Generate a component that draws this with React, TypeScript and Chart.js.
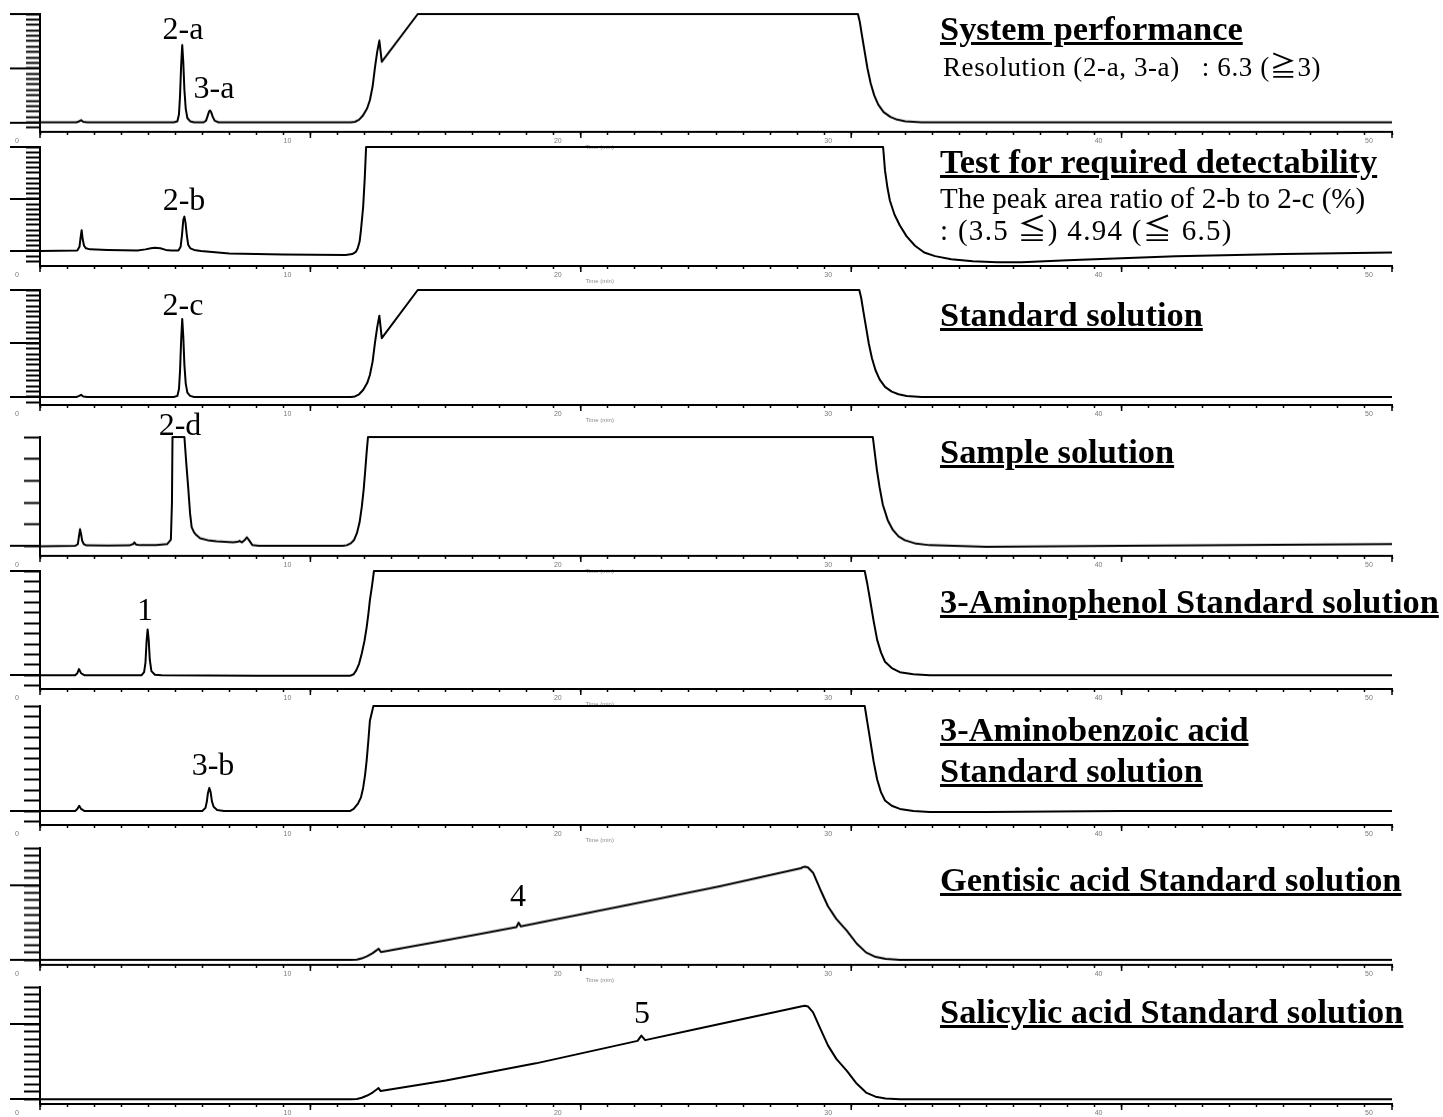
import React, { useEffect, useRef } from 'react';
import { Chart, registerables } from 'chart.js';

Chart.register(...registerables);

// ---------- DATA: [time (min), signal] ----------
const TIME_LABELS = [0, 10, 20, 30, 40, 50];

const systemPerformance: [number, number][] = [
  [0, 0], [1.35, 0], [1.45, 0.02], [1.52, 0.04], [1.6, 0.01], [1.75, 0], [4.95, 0], [5.08, 0.02], [5.14, 0.15],
  [5.18, 0.5], [5.22, 1.05], [5.26, 1.43], [5.3, 1.1], [5.34, 0.6], [5.39, 0.25], [5.45, 0.08], [5.55, 0.02],
  [5.7, 0], [6.05, 0], [6.14, 0.03], [6.2, 0.12], [6.25, 0.2], [6.29, 0.22], [6.33, 0.19], [6.39, 0.1],
  [6.46, 0.03], [6.6, 0], [11.5, 0], [11.65, 0.01], [11.8, 0.05], [11.95, 0.13], [12.1, 0.26], [12.2, 0.41],
  [12.3, 0.66], [12.39, 1.02], [12.47, 1.3], [12.55, 1.51], [12.64, 1.12], [13.97, 2.0], [30.25, 2.0],
  [30.32, 1.85], [30.4, 1.6], [30.5, 1.3], [30.6, 1.0], [30.72, 0.72], [30.85, 0.5], [31.0, 0.33],
  [31.2, 0.19], [31.45, 0.1], [31.7, 0.05], [32.0, 0.02], [32.6, 0], [50, 0],
];

const detectability: [number, number][] = [
  [0, 0], [1.38, 0.01], [1.46, 0.08], [1.5, 0.25], [1.54, 0.4], [1.58, 0.22], [1.63, 0.1], [1.7, 0.05],
  [1.85, 0.03], [2.5, 0.02], [3.6, 0.01], [3.9, 0.03], [4.1, 0.05], [4.25, 0.06], [4.45, 0.05], [4.65, 0.02],
  [4.85, 0.01], [5.12, 0.01], [5.2, 0.08], [5.25, 0.3], [5.3, 0.6], [5.34, 0.66], [5.38, 0.55], [5.43, 0.3],
  [5.48, 0.12], [5.56, 0.05], [5.7, 0.02], [5.95, 0], [7.0, -0.05], [9.0, -0.07], [11.3, -0.08],
  [11.55, -0.06], [11.68, -0.02], [11.75, 0.05], [11.82, 0.18], [11.87, 0.4], [11.95, 0.84], [12.01, 1.4],
  [12.06, 2.0], [31.18, 2.0], [31.25, 1.55], [31.34, 1.22], [31.43, 0.97], [31.6, 0.7], [31.8, 0.49],
  [32.05, 0.28], [32.36, 0.1], [32.7, -0.03], [33.1, -0.1], [33.7, -0.16], [34.5, -0.2], [35.4, -0.22],
  [36.3, -0.22], [38.0, -0.18], [40.0, -0.14], [42.0, -0.1], [46.0, -0.06], [50, -0.03],
];

const standardSolution: [number, number][] = [
  [0, 0], [1.35, 0], [1.45, 0.02], [1.52, 0.04], [1.6, 0.01], [1.75, 0], [4.95, 0], [5.08, 0.02], [5.14, 0.15],
  [5.18, 0.5], [5.22, 1.06], [5.26, 1.46], [5.3, 1.12], [5.34, 0.6], [5.39, 0.25], [5.45, 0.08], [5.55, 0.02],
  [5.7, 0], [11.5, 0], [11.65, 0.01], [11.8, 0.05], [11.95, 0.13], [12.1, 0.26], [12.2, 0.41], [12.3, 0.66],
  [12.39, 1.02], [12.47, 1.3], [12.55, 1.52], [12.64, 1.1], [13.97, 2.0], [30.3, 2.0], [30.37, 1.85],
  [30.45, 1.6], [30.55, 1.3], [30.65, 1.0], [30.77, 0.72], [30.9, 0.5], [31.05, 0.33], [31.25, 0.19],
  [31.5, 0.1], [31.75, 0.05], [32.05, 0.02], [32.6, 0], [50, 0],
];

const sampleSolution: [number, number][] = [
  [0, 0], [1.3, 0.02], [1.4, 0.1], [1.44, 0.45], [1.48, 0.78], [1.52, 0.55], [1.56, 0.25], [1.62, 0.1],
  [1.72, 0.04], [2.5, 0.03], [3.3, 0.04], [3.44, 0.1], [3.49, 0.18], [3.55, 0.08], [3.7, 0.05], [4.3, 0.06],
  [4.7, 0.1], [4.84, 0.3], [4.88, 2.0], [4.9, 5.0], [5.34, 5.0], [5.41, 3.8], [5.48, 2.7], [5.55, 1.5],
  [5.61, 0.87], [5.68, 0.68], [5.75, 0.55], [5.92, 0.37], [6.2, 0.28], [6.53, 0.23], [7.14, 0.18],
  [7.3, 0.2], [7.38, 0.25], [7.47, 0.18], [7.58, 0.3], [7.65, 0.41], [7.73, 0.28], [7.85, 0.06],
  [8.1, 0.02], [11.2, 0.02], [11.35, 0.05], [11.5, 0.14], [11.62, 0.3], [11.72, 0.6], [11.82, 1.1],
  [11.9, 1.8], [11.97, 2.6], [12.03, 3.5], [12.08, 4.3], [12.13, 5.0], [30.8, 5.0], [30.88, 4.2],
  [30.95, 3.5], [31.05, 2.7], [31.17, 1.9], [31.35, 1.2], [31.54, 0.75], [31.75, 0.45], [31.98, 0.28],
  [32.4, 0.12], [32.9, 0.05], [35.0, -0.02], [40.0, 0.02], [50, 0.1],
];

const aminophenolStd: [number, number][] = [
  [0, 0], [1.3, 0], [1.38, 0.02], [1.44, 0.06], [1.52, 0.02], [1.65, 0], [3.75, 0], [3.85, 0.03],
  [3.9, 0.12], [3.94, 0.32], [3.98, 0.44], [4.02, 0.34], [4.06, 0.15], [4.12, 0.04], [4.25, 0.005],
  [4.5, 0], [8.0, -0.005], [11.46, -0.005], [11.6, 0.01], [11.7, 0.05], [11.8, 0.11], [11.9, 0.21],
  [12.0, 0.33], [12.08, 0.46], [12.15, 0.6], [12.2, 0.72], [12.28, 0.86], [12.35, 1.0], [30.5, 1.0],
  [30.6, 0.87], [30.7, 0.72], [30.83, 0.52], [30.96, 0.34], [31.1, 0.22], [31.25, 0.13], [31.5, 0.07],
  [31.8, 0.03], [32.3, 0.01], [32.9, 0], [50, 0],
];

const aminobenzoicStd: [number, number][] = [
  [0, 0], [1.3, 0], [1.38, 0.02], [1.45, 0.05], [1.52, 0.02], [1.65, 0], [6.0, 0], [6.12, 0.03],
  [6.17, 0.09], [6.21, 0.17], [6.26, 0.22], [6.31, 0.18], [6.36, 0.09], [6.42, 0.04], [6.55, 0.01],
  [6.8, 0], [11.46, 0], [11.6, 0.02], [11.76, 0.07], [11.87, 0.13], [11.95, 0.22], [12.02, 0.34],
  [12.08, 0.48], [12.14, 0.66], [12.2, 0.86], [12.33, 1.0], [30.5, 1.0], [30.6, 0.84], [30.7, 0.68],
  [30.83, 0.47], [30.96, 0.3], [31.1, 0.18], [31.25, 0.1], [31.5, 0.05], [31.8, 0.02], [32.3, 0],
  [32.9, -0.01], [35.0, -0.01], [40.0, 0], [50, 0],
];

const gentisicStd: [number, number][] = [
  [0, 0], [11.5, 0], [11.72, 0.005], [11.9, 0.02], [12.1, 0.05], [12.3, 0.09], [12.45, 0.13], [12.52, 0.15],
  [12.61, 0.105], [15.27, 0.28], [17.62, 0.44], [17.7, 0.5], [17.78, 0.45], [22.34, 0.78], [25.18, 0.99],
  [28.14, 1.23], [28.22, 1.245], [28.29, 1.25], [28.4, 1.24], [28.59, 1.17], [28.85, 0.95], [29.14, 0.72],
  [29.45, 0.55], [29.84, 0.39], [30.2, 0.22], [30.55, 0.1], [30.9, 0.04], [31.27, 0.015], [31.8, 0], [50, 0],
];

const salicylicStd: [number, number][] = [
  [0, 0], [11.5, 0], [11.72, 0.005], [11.9, 0.02], [12.1, 0.05], [12.3, 0.09], [12.45, 0.13], [12.52, 0.15],
  [12.6, 0.11], [15.01, 0.25], [18.34, 0.48], [22.1, 0.78], [22.24, 0.85], [22.38, 0.79], [24.41, 0.95],
  [28.14, 1.24], [28.22, 1.245], [28.29, 1.25], [28.4, 1.24], [28.59, 1.16], [28.85, 0.95], [29.14, 0.72],
  [29.45, 0.54], [29.84, 0.38], [30.2, 0.21], [30.55, 0.09], [30.9, 0.035], [31.27, 0.01], [31.8, 0], [50, 0],
];

// ---------- layout ----------
const W = 1443;
const H = 1117;
const PLOT_LEFT = 40;
const PLOT_RIGHT = 1392;
const PAD_TOP = 6;
const X_AXIS_H = 20;

type PanelCfg = {
  data: [number, number][];
  top: number;
  axisY: number;
  yMin: number;
  yMax: number;
  step: number;
  longTicks: number[];
  tickLen: number;
};

const panels: PanelCfg[] = [
  { data: systemPerformance, top: 14, axisY: 131.5, yMin: -0.176, yMax: 2, step: 0.1, longTicks: [0, 1, 2], tickLen: 14 },
  { data: detectability, top: 147, axisY: 266, yMin: -0.29, yMax: 2, step: 0.1, longTicks: [0, 1, 2], tickLen: 14 },
  { data: standardSolution, top: 290, axisY: 405, yMin: -0.15, yMax: 2, step: 0.1, longTicks: [0, 1, 2], tickLen: 14 },
  { data: sampleSolution, top: 437, axisY: 555.5, yMin: -0.44, yMax: 5, step: 1, longTicks: [0], tickLen: 16 },
  { data: aminophenolStd, top: 571, axisY: 689, yMin: -0.131, yMax: 1, step: 0.1, longTicks: [0, 1], tickLen: 16 },
  { data: aminobenzoicStd, top: 706, axisY: 825, yMin: -0.133, yMax: 1, step: 0.1, longTicks: [0], tickLen: 16 },
  { data: gentisicStd, top: 848, axisY: 964.5, yMin: -0.067, yMax: 1.5, step: 0.1, longTicks: [0, 1], tickLen: 16 },
  { data: salicylicStd, top: 987, axisY: 1104, yMin: -0.063, yMax: 1.5, step: 0.1, longTicks: [0, 1], tickLen: 16 },
];

const axisDecor = {
  id: 'axisDecor',
  afterDraw(chart: any, _args: any, opts: any) {
    const { ctx, chartArea, scales } = chart;
    const xs = scales.x;
    const ys = scales.y;
    ctx.save();
    ctx.strokeStyle = '#000';
    ctx.lineWidth = 2;
    ctx.beginPath();
    for (const v of opts.longTicks || []) {
      const py = Math.round(ys.getPixelForValue(v));
      ctx.moveTo(10, py);
      ctx.lineTo(chartArea.left, py);
    }
    ctx.stroke();
    ctx.lineWidth = 1.5;
    ctx.beginPath();
    for (const v of TIME_LABELS) {
      const px = xs.getPixelForValue(v);
      ctx.moveTo(px, chartArea.bottom);
      ctx.lineTo(px, chartArea.bottom + 6);
    }
    ctx.stroke();
    ctx.fillStyle = '#8a8a8a';
    ctx.font = '6px Arial, "Liberation Sans", sans-serif';
    ctx.textAlign = 'center';
    ctx.textBaseline = 'middle';
    ctx.fillText('Time (min)', xs.getPixelForValue(20.7), chartArea.bottom + 15.5);
    ctx.restore();
  },
};

function Panel({ cfg }: { cfg: PanelCfg }) {
  const ref = useRef<HTMLCanvasElement>(null);
  const height = PAD_TOP + (cfg.axisY - cfg.top) + X_AXIS_H;
  useEffect(() => {
    if (!ref.current) return;
    const chart = new Chart(ref.current, {
      type: 'line',
      data: {
        datasets: [
          {
            data: cfg.data.map(([x, y]) => ({ x, y })),
            borderColor: '#000',
            borderWidth: 2,
            pointRadius: 0,
            fill: false,
            tension: 0,
            borderJoinStyle: 'round',
            clip: 5,
          } as any,
        ],
      },
      options: {
        animation: false,
        responsive: false,
        maintainAspectRatio: false,
        devicePixelRatio: 1,
        events: [],
        layout: { padding: { top: PAD_TOP, left: 0, right: W - PLOT_RIGHT, bottom: 0 } },
        plugins: {
          legend: { display: false },
          tooltip: { enabled: false },
          axisDecor: { longTicks: cfg.longTicks },
        } as any,
        scales: {
          x: {
            type: 'linear',
            min: 0,
            max: 50,
            afterFit: (s: any) => {
              s.height = X_AXIS_H;
            },
            grid: { drawOnChartArea: false, drawTicks: true, tickLength: 3, tickWidth: 1.5, tickColor: '#000' },
            border: { display: true, color: '#000', width: 2 },
            ticks: {
              stepSize: 1,
              autoSkip: false,
              maxRotation: 0,
              includeBounds: false,
              padding: 2,
              labelOffset: -23,
              color: '#777',
              font: { size: 7, family: 'Arial, "Liberation Sans", sans-serif' },
              callback: (v: any) => (Number(v) % 10 === 0 ? String(v) : ''),
            },
          },
          y: {
            type: 'linear',
            min: cfg.yMin,
            max: cfg.yMax,
            afterFit: (s: any) => {
              s.width = PLOT_LEFT;
            },
            grid: { drawOnChartArea: false, drawTicks: true, tickLength: cfg.tickLen, tickWidth: 2, tickColor: '#000' },
            border: { display: true, color: '#000', width: 2 },
            ticks: { display: false, stepSize: cfg.step, includeBounds: false, autoSkip: false },
          },
        },
      } as any,
      plugins: [axisDecor],
    });
    return () => chart.destroy();
  }, []);
  return (
    <canvas
      ref={ref}
      width={W}
      height={height}
      style={{ position: 'absolute', left: 0, top: cfg.top - PAD_TOP, width: W, height }}
    />
  );
}

const SERIF = '"Liberation Serif", "Times New Roman", "Noto Sans CJK JP", serif';

type TextItem = {
  text: string;
  x: number;
  base: number;
  size: number;
  bold?: boolean;
  center?: boolean;
  spacing?: number;
};

const titles: TextItem[] = [
  { text: 'System performance', x: 940, base: 40, size: 34.4, bold: true },
  { text: 'Test for required detectability', x: 940, base: 173, size: 34.4, bold: true },
  { text: 'Standard solution', x: 940, base: 326, size: 34.4, bold: true },
  { text: 'Sample solution', x: 940, base: 463, size: 34.4, bold: true },
  { text: '3-Aminophenol Standard solution', x: 940, base: 613, size: 34.4, bold: true },
  { text: '3-Aminobenzoic acid', x: 940, base: 741, size: 34.4, bold: true },
  { text: 'Standard solution', x: 940, base: 782, size: 34.4, bold: true },
  { text: 'Gentisic acid Standard solution', x: 940, base: 891, size: 34.4, bold: true },
  { text: 'Salicylic acid Standard solution', x: 940, base: 1023, size: 34.4, bold: true },
];

const notes: TextItem[] = [
  { text: 'Resolution (2-a, 3-a)   : 6.3 (≧3)', x: 943, base: 77, size: 27, spacing: 0.6 },
  { text: 'The peak area ratio of 2-b to 2-c (%)', x: 940, base: 208, size: 29 },
  { text: ': (3.5 ≦) 4.94 (≦ 6.5)', x: 940, base: 240, size: 29, spacing: 1.3 },
];

const peakLabels: TextItem[] = [
  { text: '2-a', x: 183, base: 39, size: 32, center: true },
  { text: '3-a', x: 214, base: 98, size: 32, center: true },
  { text: '2-b', x: 184, base: 210, size: 32, center: true },
  { text: '2-c', x: 183, base: 315, size: 32, center: true },
  { text: '2-d', x: 180, base: 435, size: 32, center: true },
  { text: '1', x: 145, base: 620, size: 32, center: true },
  { text: '3-b', x: 213, base: 775, size: 32, center: true },
  { text: '4', x: 518, base: 906, size: 32, center: true },
  { text: '5', x: 642, base: 1023, size: 32, center: true },
];

function Txt({ t, underline }: { t: TextItem; underline?: boolean }) {
  return (
    <div
      style={{
        position: 'absolute',
        left: t.x,
        top: t.base - 0.8375 * t.size,
        fontFamily: SERIF,
        fontSize: t.size,
        lineHeight: 1,
        fontWeight: t.bold ? 700 : 400,
        letterSpacing: t.spacing ? t.spacing : undefined,
        textDecoration: underline ? 'underline' : 'none',
        whiteSpace: 'pre',
        color: '#000',
        transform: t.center ? 'translateX(-50%)' : undefined,
      }}
    >
      {t.text}
    </div>
  );
}

export default function App() {
  return (
    <div
      style={{
        position: 'absolute',
        left: 0,
        top: 0,
        width: W,
        height: H,
        overflow: 'hidden',
        background: '#fff',
      }}
    >
      {panels.map((p, i) => (
        <Panel key={i} cfg={p} />
      ))}
      {titles.map((t, i) => (
        <Txt key={'t' + i} t={t} underline />
      ))}
      {notes.map((t, i) => (
        <Txt key={'n' + i} t={t} />
      ))}
      {peakLabels.map((t, i) => (
        <Txt key={'p' + i} t={t} />
      ))}
    </div>
  );
}
